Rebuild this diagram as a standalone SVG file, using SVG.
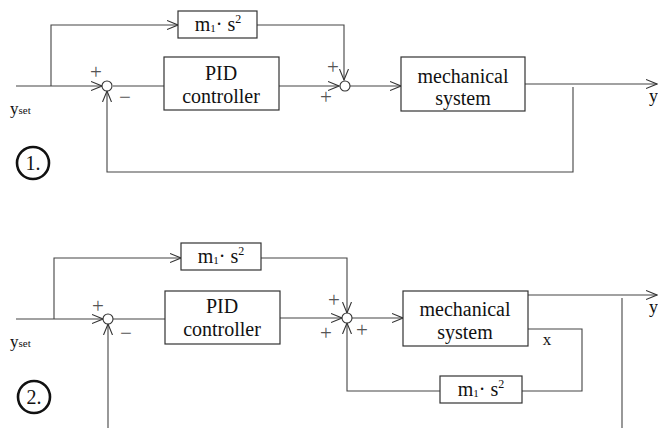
<svg xmlns="http://www.w3.org/2000/svg" width="658" height="428" viewBox="0 0 658 428">
<style>
.box{fill:#fff;stroke:#333;stroke-width:1.2}
.ln{fill:none;stroke:#444;stroke-width:1.1}
.arr{marker-end:url(#ah)}
.sum{fill:#fff;stroke:#333;stroke-width:1.1}
.t{font-family:"Liberation Serif","DejaVu Serif",serif;fill:#111}
.lbl{font-size:20px;text-anchor:middle}
.sgn{font-family:"Liberation Serif","DejaVu Serif",serif;font-size:21px;fill:#555;text-anchor:middle}
.num{fill:#fff;stroke:#111;stroke-width:2.6}
</style>
<defs>
<marker id="ah" viewBox="0 0 12 10" refX="11" refY="5" markerWidth="12" markerHeight="10" markerUnits="userSpaceOnUse" orient="auto">
<path d="M0,0.5 L11,5 L0,9.5" fill="none" stroke="#333" stroke-width="1.1"/>
</marker>
</defs>

<g id="connectors">
<path class="ln arr" d="M16,86 H102"/>
<path class="ln arr" d="M51,86 V25 H178"/>
<path class="ln" d="M113,86 H164"/>
<path class="ln arr" d="M279,86 H339"/>
<path class="ln arr" d="M257,25 H344 V80"/>
<path class="ln arr" d="M350,86 H401"/>
<path class="ln arr" d="M525,84 H657"/>
<path class="ln arr" d="M573,87 V172 H107 V91"/>
<path class="ln arr" d="M16,319 H103"/>
<path class="ln arr" d="M54,319 V258 H181"/>
<path class="ln" d="M113,319 H165"/>
<path class="ln arr" d="M280,318 H342"/>
<path class="ln arr" d="M261,258 H347 V313"/>
<path class="ln arr" d="M352,318 H403"/>
<path class="ln arr" d="M528,295 H657"/>
<path class="ln" d="M528,329 H582 V391 H522"/>
<path class="ln arr" d="M440,391 H347 V323"/>
<path class="ln" d="M622,298 V428"/>
<path class="ln arr" d="M108,428 V324"/>
</g>

<g id="sum1a"><circle class="sum" cx="107" cy="86" r="5"/><text class="sgn" x="96" y="79">+</text><text class="sgn" x="125" y="104">−</text></g>
<g id="sum1b"><circle class="sum" cx="345" cy="86" r="5"/><text class="sgn" x="333" y="74">+</text><text class="sgn" x="326" y="104">+</text></g>
<g id="sum2a"><circle class="sum" cx="108" cy="319" r="5"/><text class="sgn" x="98" y="313">+</text><text class="sgn" x="126" y="340">−</text></g>
<g id="sum2b"><circle class="sum" cx="347" cy="318" r="5"/><text class="sgn" x="334" y="307">+</text><text class="sgn" x="326" y="340">+</text><text class="sgn" x="362" y="337">+</text></g>

<g id="ff1"><rect class="box" x="178" y="11" width="79" height="27"/><text class="t lbl" x="218" y="31">m<tspan font-size="11" dy="1">1</tspan><tspan dy="-1">· s</tspan><tspan font-size="12" dy="-8">2</tspan></text></g>
<g id="pid1"><rect class="box" x="164" y="57" width="115" height="53"/><text class="t lbl" x="221" y="80">PID</text><text class="t lbl" x="221" y="103">controller</text></g>
<g id="mech1"><rect class="box" x="401" y="57" width="124" height="54"/><text class="t lbl" x="463" y="83">mechanical</text><text class="t lbl" x="463" y="105">system</text></g>

<g id="ff2"><rect class="box" x="181" y="243" width="80" height="27"/><text class="t lbl" x="221" y="263">m<tspan font-size="11" dy="1">1</tspan><tspan dy="-1">· s</tspan><tspan font-size="12" dy="-8">2</tspan></text></g>
<g id="pid2"><rect class="box" x="165" y="291" width="115" height="53"/><text class="t lbl" x="222" y="313">PID</text><text class="t lbl" x="222" y="336">controller</text></g>
<g id="mech2"><rect class="box" x="403" y="291" width="125" height="55"/><text class="t lbl" x="465" y="316">mechanical</text><text class="t lbl" x="465" y="339">system</text></g>
<g id="fb2"><rect class="box" x="440" y="376" width="82" height="27"/><text class="t lbl" x="481" y="396">m<tspan font-size="11" dy="1">1</tspan><tspan dy="-1">· s</tspan><tspan font-size="12" dy="-8">2</tspan></text></g>

<g id="labels">
<text class="t" x="10" y="114" font-size="17">y<tspan font-size="11">set</tspan></text>
<text class="t" x="10" y="347" font-size="17">y<tspan font-size="11">set</tspan></text>
<text class="t" x="649" y="102" font-size="18">y</text>
<text class="t" x="649" y="313" font-size="18">y</text>
<text class="t" x="547" y="345" font-size="17" text-anchor="middle">x</text>
</g>
<g id="num1"><circle class="num" cx="33" cy="163" r="16"/><text class="t" x="33" y="170" font-size="20" text-anchor="middle">1.</text></g>
<g id="num2"><circle class="num" cx="34" cy="397" r="16"/><text class="t" x="34" y="404" font-size="20" text-anchor="middle">2.</text></g>
</svg>
